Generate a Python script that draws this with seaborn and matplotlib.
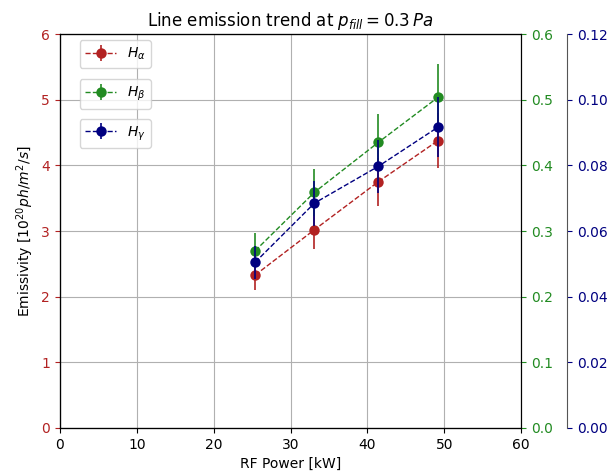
import matplotlib
matplotlib.use("Agg")
import matplotlib.pyplot as plt
from matplotlib.lines import Line2D
import seaborn as sns
import numpy as np

power = [25.4, 33.1, 41.4, 49.2]
h_alpha = [2.33, 3.02, 3.75, 4.38]
h_alpha_err = [0.23, 0.30, 0.37, 0.42]
h_beta = [0.270, 0.359, 0.435, 0.504]
h_beta_err = [0.027, 0.036, 0.043, 0.050]
h_gamma = [0.0505, 0.0685, 0.0797, 0.0917]
h_gamma_err = [0.0050, 0.0068, 0.0080, 0.0092]

c_a, c_b, c_g = "firebrick", "forestgreen", "navy"

fig = plt.figure(figsize=(6.11, 4.75), dpi=100)
ax1 = fig.add_axes([0.098, 0.099, 0.755, 0.829])
ax2 = ax1.twinx()
ax3 = ax1.twinx()
ax3.spines["right"].set_position(("axes", 1.1))

def draw(ax, y, yerr, color, label, anchor):
    sns.lineplot(x=power, y=y, ax=ax, color=color, linestyle="--", linewidth=1,
                 marker="o", markersize=7.5, markeredgewidth=0, legend=False, zorder=3)
    ax.errorbar(power, y, yerr=yerr, fmt="none", ecolor=color, elinewidth=1.2, zorder=2)
    h = (Line2D([], [], color=color, linestyle="--", linewidth=1, marker="o",
                markersize=7.5, markeredgewidth=0),
         Line2D([], [], color=color, linestyle="none", marker="|", markersize=12,
                markeredgewidth=1.2))
    ax.legend([h], [label], loc="upper left", bbox_to_anchor=anchor,
              borderaxespad=0, fontsize=10, handlelength=2.2)

draw(ax1, h_alpha, h_alpha_err, c_a, r"$H_\alpha$", (0.043, 0.985))
draw(ax2, h_beta, h_beta_err, c_b, r"$H_\beta$", (0.043, 0.885))
draw(ax3, h_gamma, h_gamma_err, c_g, r"$H_\gamma$", (0.043, 0.785))

ax1.set_xlim(0, 60)
ax1.set_ylim(0, 6)
ax2.set_ylim(0, 0.6)
ax3.set_ylim(0, 0.12)
ax1.set_xticks([0, 10, 20, 30, 40, 50, 60])
ax1.set_yticks([0, 1, 2, 3, 4, 5, 6])
ax2.set_yticks([0, 0.1, 0.2, 0.3, 0.4, 0.5, 0.6])
ax3.set_yticks([0, 0.02, 0.04, 0.06, 0.08, 0.10, 0.12])
ax3.set_yticklabels(["0.00", "0.02", "0.04", "0.06", "0.08", "0.10", "0.12"])

ax1.grid(True, color="#b0b0b0", linewidth=0.8)
ax1.set_axisbelow(True)
ax1.tick_params(axis="y", colors=c_a)
ax2.tick_params(axis="y", colors=c_b)
ax3.tick_params(axis="y", colors=c_g)
ax3.spines["right"].set_color("#555555")

ax1.set_xlabel("RF Power [kW]", fontsize=10)
ax1.set_ylabel(r"Emissivity [$10^{20} ph/m^2/s$]", fontsize=10)
ax2.set_ylabel("")
ax3.set_ylabel("")
ax1.set_title(r"Line emission trend at $p_{fill} = 0.3\,Pa$", fontsize=12)

fig.savefig("out.png", dpi=100)
